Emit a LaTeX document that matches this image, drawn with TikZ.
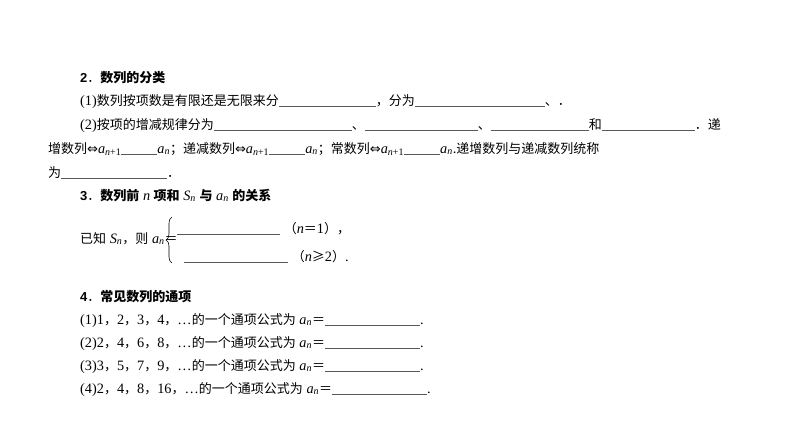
\documentclass[tikz,border=0pt]{standalone}
\usepackage{fontspec}
\setmainfont{Liberation Serif}[Scale=1.1]
\newfontfamily\zh{Noto Sans CJK SC}
\newfontfamily\djf{DejaVu Sans}
\newfontfamily\hsf{Liberation Sans}
\usetikzlibrary{decorations.pathreplacing}
\newcommand{\blk}[1]{\textcolor{black!65}{\rule[-1.5pt]{#1pt}{0.5pt}}}
\newcommand{\an}{\textit{a}\textsubscript{\textit{n}}}
\newcommand{\anp}{\textit{a}\textsubscript{\textit{n}+1}}
\newcommand{\eqvv}{{\djf ⇔}}
\newcommand{\eqq}{{\zh ＝}}
\begin{document}
\begin{tikzpicture}[x=1pt,y=-1pt,
  t/.style={anchor=base west,inner sep=0pt,font=\fontsize{13}{15}\selectfont},
  h/.style={anchor=base west,inner sep=0pt,font=\fontsize{13}{15}\selectfont}]
\useasboundingbox (0,0) rectangle (794,447);
\node[h] (h2) at (80,82) {{\hsf\bfseries 2}{\zh ．\bfseries 数列的分类}};
\node[t] (l1) at (80,105) {(1){\zh 数列按项数是有限还是无限来分}\blk{97}{\zh ，分为}\blk{130}{\zh 、．}};
\node[t] (l2) at (80,129) {(2){\zh 按项的增减规律分为}\blk{138}{\zh 、}\blk{113}{\zh 、}\blk{98}{\zh 和}\blk{93}{\zh ．递}};
\node[t] (l3) at (48,153) {{\zh 增数列}\eqvv\anp\blk{36}\an{\zh ；递减数列}\eqvv\anp\blk{36}\an{\zh ；常数列}\eqvv\anp\blk{36}\an{\zh .递增数列与递减数列统称}};
\node[t] (l4) at (48,177) {{\zh 为}\blk{106}{\zh ．}};
\node[h] (h3) at (80,200) {{\hsf\bfseries 3}{\zh ．\bfseries 数列前}\ \textit{n}\ {\zh\bfseries 项和}\ \textit{S}\textsubscript{\textit{n}}\ {\zh\bfseries 与}\ \an\ {\zh\bfseries 的关系}};
\node[t] (k) at (80,243) {{\zh 已知}\ \textit{S}\textsubscript{\textit{n}}{\zh ，则}\ \an\eqq};
\coordinate (b1) at (172,263);
\coordinate (b2) at (172,217);
\draw[decorate,decoration={brace,amplitude=6pt},line width=0.6pt] (b1) -- (b2);
\node[t] (c1) at (177,233) {\blk{103}\ {\zh （}\textit{n}\eqq 1{\zh ），}};
\node[t] (c2) at (184,261) {\blk{104}\ {\zh （}\textit{n}{\zh ≥}2{\zh ）}.};
\node[h] (h4) at (80,301) {{\hsf\bfseries 4}{\zh ．\bfseries 常见数列的通项}};
\node[t] (p1) at (80,324) {(1)1{\zh ，}2{\zh ，}3{\zh ，}4{\zh ，}…{\zh 的一个通项公式为}\ \an\eqq\blk{95}.};
\node[t] (p2) at (80,347) {(2)2{\zh ，}4{\zh ，}6{\zh ，}8{\zh ，}…{\zh 的一个通项公式为}\ \an\eqq\blk{95}.};
\node[t] (p3) at (80,370) {(3)3{\zh ，}5{\zh ，}7{\zh ，}9{\zh ，}…{\zh 的一个通项公式为}\ \an\eqq\blk{95}.};
\node[t] (p4) at (80,393) {(4)2{\zh ，}4{\zh ，}8{\zh ，}16{\zh ，}…{\zh 的一个通项公式为}\ \an\eqq\blk{95}.};
\end{tikzpicture}
\end{document}
